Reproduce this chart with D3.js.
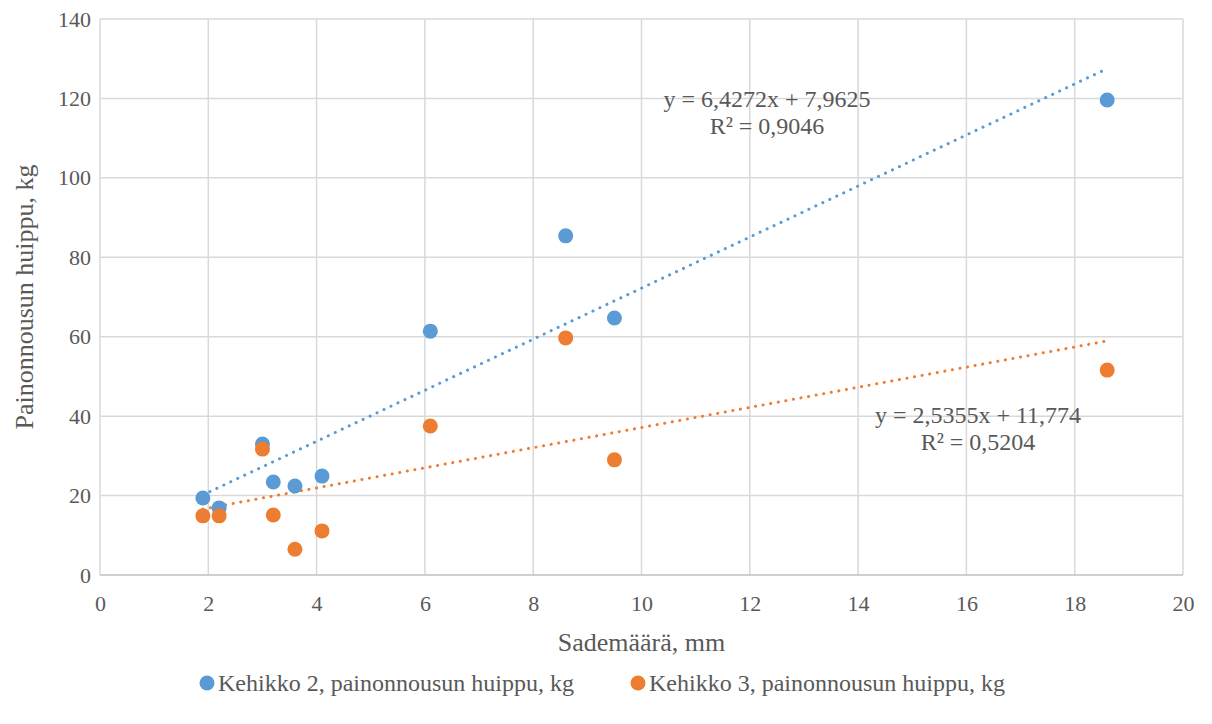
<!DOCTYPE html>
<html>
<head>
<meta charset="utf-8">
<script src="https://cdn.jsdelivr.net/npm/d3@7"></script>
<style>
  body { margin: 0; background: #fff; }
  svg text { font-family: "Liberation Serif", "Times New Roman", serif; fill: #595959; }
</style>
</head>
<body>
<svg id="chart" width="1212" height="724"></svg>
<script>
// Rainfall (x) and weight peak (y) for two frames
const rainfall = [1.9, 2.2, 3.0, 3.2, 3.6, 4.1, 6.1, 8.6, 9.5, 18.6];
const frame2 = [19.4, 16.9, 33.0, 23.4, 22.4, 24.9, 61.4, 85.4, 64.7, 119.6];
const frame3 = [14.9, 14.9, 31.7, 15.1, 6.5, 11.1, 37.5, 59.7, 29.0, 51.6];

// trendline coefficients as printed on the chart
const trend2 = {slope: 6.4272, intercept: 7.9625};
const trend3 = {slope: 2.5355, intercept: 11.774};

const seriesNames = ["Kehikko 2, painonnousun huippu, kg", "Kehikko 3, painonnousun huippu, kg"];
const trendLabels = [["y = 6,4272x + 7,9625", "R² = 0,9046"], ["y = 2,5355x + 11,774", "R² = 0,5204"]];
const xTicks = [0, 2, 4, 6, 8, 10, 12, 14, 16, 18, 20];
const yTicks = [0, 20, 40, 60, 80, 100, 120, 140];

const colors = ["#5b9bd5", "#ed7d31"];
const fontFamily = "Liberation Serif, Times New Roman, serif";

let margin = {top: 19, right: 29, bottom: 149, left: 100},
    width = 1212 - margin.left - margin.right,
    height = 724 - margin.top - margin.bottom;

let svg = d3.select("#chart");
let g = svg.append("g").attr("transform", "translate(" + margin.left + "," + margin.top + ")");

let x = d3.scaleLinear().domain([0, 20]).range([0, width]);
let y = d3.scaleLinear().domain([0, 140]).range([height, 0]);

// gridlines
g.selectAll(".vgrid").data(xTicks).enter().append("line")
    .attr("x1", d => x(d)).attr("x2", d => x(d))
    .attr("y1", 0).attr("y2", height)
    .style("stroke", "#d9d9d9").style("stroke-width", 1.5);
g.selectAll(".hgrid").data(yTicks).enter().append("line")
    .attr("x1", 0).attr("x2", width)
    .attr("y1", d => y(d)).attr("y2", d => y(d))
    .style("stroke", d => d === 0 ? "#bfbfbf" : "#d9d9d9").style("stroke-width", 1.5);

// axes (labels only)
let xAxis = g.append("g")
    .attr("transform", "translate(0," + height + ")")
    .attr("font-family", fontFamily)
    .call(d3.axisBottom(x).tickValues(xTicks).tickSize(0).tickPadding(20));
xAxis.attr("font-family", fontFamily).attr("font-size", null);
xAxis.select(".domain").remove();
xAxis.selectAll("text").style("font-size", "22px").attr("fill", "#595959");

let yAxis = g.append("g")
    .call(d3.axisLeft(y).tickValues(yTicks).tickSize(0).tickPadding(9));
yAxis.attr("font-family", fontFamily).attr("font-size", null);
yAxis.select(".domain").remove();
yAxis.selectAll("text").style("font-size", "22px").attr("fill", "#595959");

// trendlines
[trend2, trend3].forEach(function(t, i) {
    let x0 = d3.min(rainfall), x1 = d3.max(rainfall);
    g.append("line")
        .attr("x1", x(x0)).attr("y1", y(t.slope * x0 + t.intercept))
        .attr("x2", x(x1)).attr("y2", y(t.slope * x1 + t.intercept))
        .style("stroke", colors[i])
        .style("stroke-width", 3)
        .style("stroke-linecap", "round")
        .style("stroke-dasharray", "0.1 7.6");
});

// points
[frame2, frame3].forEach(function(vals, i) {
    g.selectAll(".pt" + i)
        .data(rainfall.map((r, j) => ({x: r, y: vals[j]})))
        .enter().append("circle")
        .attr("cx", d => x(d.x))
        .attr("cy", d => y(d.y))
        .attr("r", 7.5)
        .style("fill", colors[i]);
});

// trendline labels
const labelPos = [{x: 767, y: 99}, {x: 978, y: 415}];
trendLabels.forEach(function(lines, i) {
    lines.forEach(function(line, k) {
        svg.append("text")
            .attr("x", labelPos[i].x)
            .attr("y", labelPos[i].y + k * 27)
            .attr("dy", "0.35em")
            .attr("text-anchor", "middle")
            .style("font-size", "24px")
            .text(line);
    });
});

// axis titles
svg.append("text")
    .attr("x", margin.left + width / 2)
    .attr("y", 642)
    .attr("dy", "0.35em")
    .attr("text-anchor", "middle")
    .style("font-size", "26px")
    .text("Sademäärä, mm");

svg.append("text")
    .attr("transform", "translate(24," + (margin.top + height / 2) + ") rotate(-90)")
    .attr("dy", "0.35em")
    .attr("text-anchor", "middle")
    .style("font-size", "26px")
    .text("Painonnousun huippu, kg");

// legend
const legendX = [207, 638];
seriesNames.forEach(function(name, i) {
    svg.append("circle")
        .attr("cx", legendX[i]).attr("cy", 683).attr("r", 7.5)
        .style("fill", colors[i]);
    svg.append("text")
        .attr("x", legendX[i] + 11).attr("y", 683)
        .attr("dy", "0.35em")
        .style("font-size", "24px")
        .text(name);
});
</script>
</body>
</html>
